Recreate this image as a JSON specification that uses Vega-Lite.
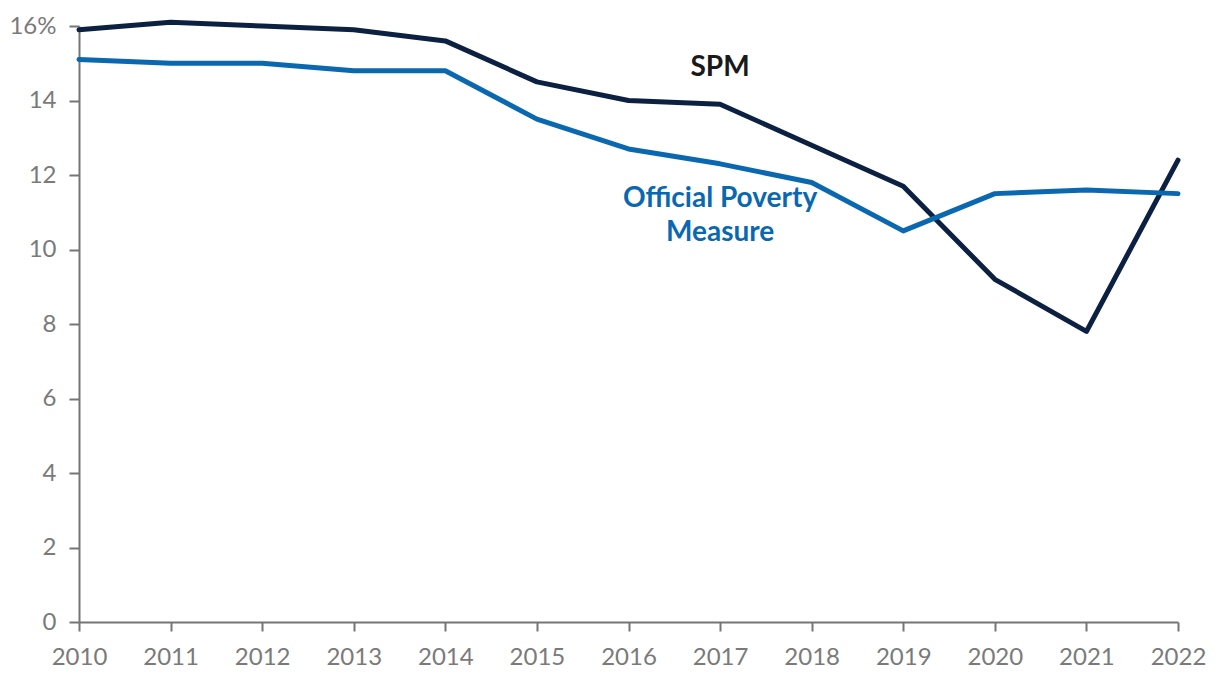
{
  "$schema": "https://vega.github.io/schema/vega-lite/v6.json",
  "autosize": {"type": "none"},
  "width": 1099,
  "height": 596,
  "padding": {"left": 79, "top": 26, "right": 42, "bottom": 64},
  "background": "white",
  "config": {"view": {"stroke": null}, "font": "Lato"},
  "datasets": {
    "series": [
      {"year": 2010, "measure": "SPM", "rate": 15.9},
      {"year": 2011, "measure": "SPM", "rate": 16.1},
      {"year": 2012, "measure": "SPM", "rate": 16.0},
      {"year": 2013, "measure": "SPM", "rate": 15.9},
      {"year": 2014, "measure": "SPM", "rate": 15.6},
      {"year": 2015, "measure": "SPM", "rate": 14.5},
      {"year": 2016, "measure": "SPM", "rate": 14.0},
      {"year": 2017, "measure": "SPM", "rate": 13.9},
      {"year": 2018, "measure": "SPM", "rate": 12.8},
      {"year": 2019, "measure": "SPM", "rate": 11.7},
      {"year": 2020, "measure": "SPM", "rate": 9.2},
      {"year": 2021, "measure": "SPM", "rate": 7.8},
      {"year": 2022, "measure": "SPM", "rate": 12.4},
      {"year": 2010, "measure": "Official", "rate": 15.1},
      {"year": 2011, "measure": "Official", "rate": 15.0},
      {"year": 2012, "measure": "Official", "rate": 15.0},
      {"year": 2013, "measure": "Official", "rate": 14.8},
      {"year": 2014, "measure": "Official", "rate": 14.8},
      {"year": 2015, "measure": "Official", "rate": 13.5},
      {"year": 2016, "measure": "Official", "rate": 12.7},
      {"year": 2017, "measure": "Official", "rate": 12.3},
      {"year": 2018, "measure": "Official", "rate": 11.8},
      {"year": 2019, "measure": "Official", "rate": 10.5},
      {"year": 2020, "measure": "Official", "rate": 11.5},
      {"year": 2021, "measure": "Official", "rate": 11.6},
      {"year": 2022, "measure": "Official", "rate": 11.5}
    ],
    "labels": [
      {"year": 2017.0, "rate": 14.88, "measure": "SPM", "text": "SPM"},
      {"year": 2017.0, "rate": 11.36, "measure": "Official", "text": "Official Poverty\nMeasure"}
    ]
  },
  "layer": [
    {
      "data": {"name": "series"},
      "mark": {"type": "line", "strokeWidth": 5, "strokeCap": "round", "strokeJoin": "round"},
      "encoding": {
        "x": {
          "field": "year", "type": "quantitative",
          "scale": {"domain": [2010, 2022], "nice": false, "zero": false},
          "axis": {
            "title": null, "values": [2010,2011,2012,2013,2014,2015,2016,2017,2018,2019,2020,2021,2022],
            "format": "d", "grid": false, "domainColor": "#757575", "domainWidth": 2,
            "tickColor": "#757575", "tickWidth": 2, "tickSize": 9,
            "labelColor": "#7a7a7a", "labelFontSize": 24, "labelFontWeight": "normal", "labelPadding": 14, "labelFont": "Lato",
            "labelFlush": false, "labelOverlap": false, "labelBound": false
          }
        },
        "y": {
          "field": "rate", "type": "quantitative",
          "scale": {"domain": [0, 16], "nice": false},
          "axis": {
            "title": null, "values": [0,2,4,6,8,10,12,14,16],
            "labelExpr": "datum.value == 16 ? '16%' : datum.label",
            "grid": false, "domainColor": "#757575", "domainWidth": 2,
            "tickColor": "#757575", "tickWidth": 2, "tickSize": 10,
            "labelColor": "#7a7a7a", "labelFontSize": 24, "labelFontWeight": "normal", "labelPadding": 13, "labelFont": "Lato",
            "labelFlush": false, "labelOverlap": false, "labelBound": false
          }
        },
        "color": {
          "field": "measure", "type": "nominal",
          "scale": {"domain": ["SPM", "Official"], "range": ["#0c2141", "#0a68b1"]},
          "legend": null
        },
        "detail": {"field": "measure"}
      }
    },
    {
      "data": {"name": "labels"},
      "mark": {"type": "text", "fontSize": 28, "fontWeight": "bold", "font": "Lato", "align": "center", "baseline": "middle", "lineBreak": "\n", "lineHeight": 34},
      "encoding": {
        "x": {"field": "year", "type": "quantitative"},
        "y": {"field": "rate", "type": "quantitative"},
        "text": {"field": "text"},
        "color": {
          "field": "measure", "type": "nominal",
          "scale": {"domain": ["SPM", "Official"], "range": ["#1a1a1a", "#0a68b1"]},
          "legend": null
        }
      }
    }
  ],
  "resolve": {"scale": {"color": "independent"}}
}
